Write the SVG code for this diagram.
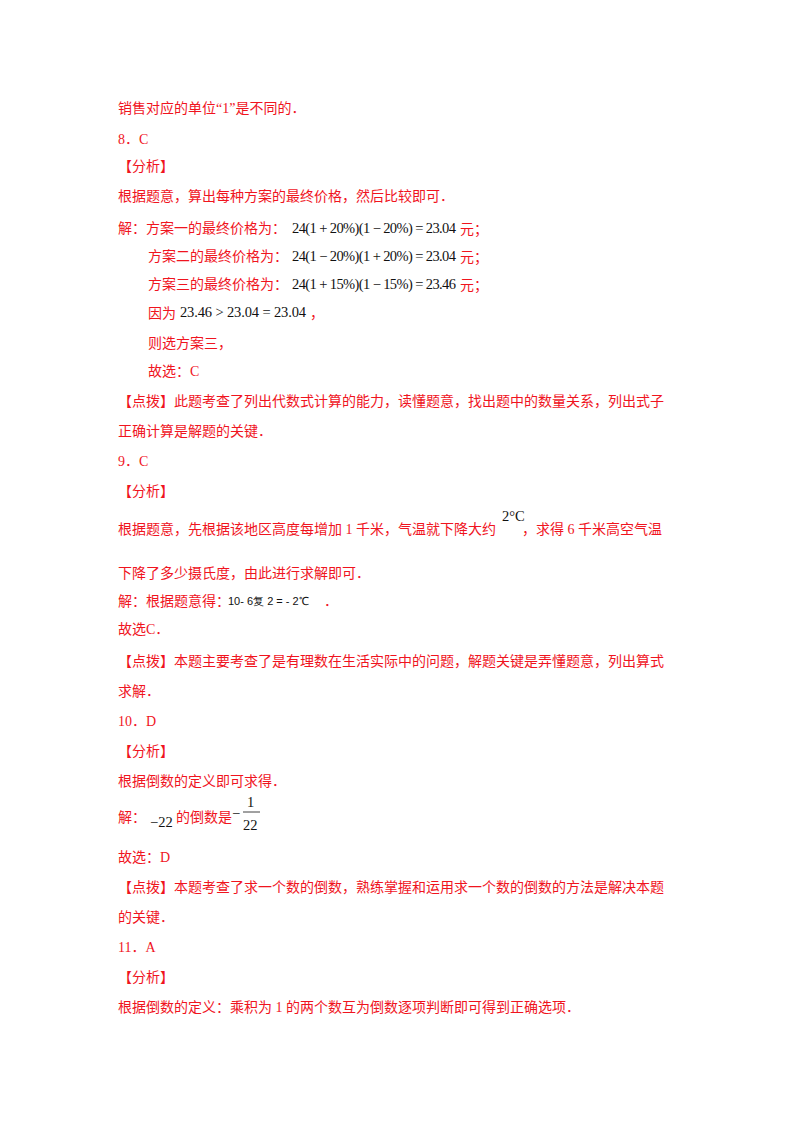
<svg xmlns="http://www.w3.org/2000/svg" width="800" height="1132" viewBox="0 0 800 1132">
<style>
.t{font-family:"Liberation Serif","Noto Sans CJK SC",serif;font-size:14px;fill:#f0141e}
.m{font-family:"Liberation Serif",serif;font-size:14.5px;fill:#111}
.s{font-family:"Liberation Sans",sans-serif;font-size:11px;fill:#111}
</style>
<rect width="800" height="1132" fill="#fff"/>
<g id="text">
<text class="t" x="118" y="113">销售对应的单位“1”是不同的．</text>
<text class="t" x="118" y="144">8．C</text>
<text class="t" x="118" y="171">【分析】</text>
<text class="t" x="118" y="201">根据题意，算出每种方案的最终价格，然后比较即可．</text>
<text class="t" x="118" y="233">解：方案一的最终价格为：</text>
<text class="m" x="292" y="233" textLength="164" lengthAdjust="spacing">24(1 + 20%)(1 − 20%) = 23.04</text>
<text class="t" x="460" y="234">元；</text>
<text class="t" x="148" y="261">方案二的最终价格为：</text>
<text class="m" x="292" y="261" textLength="164" lengthAdjust="spacing">24(1 − 20%)(1 + 20%) = 23.04</text>
<text class="t" x="460" y="262">元；</text>
<text class="t" x="148" y="289">方案三的最终价格为：</text>
<text class="m" x="292" y="289" textLength="164" lengthAdjust="spacing">24(1 + 15%)(1 − 15%) = 23.46</text>
<text class="t" x="460" y="290">元；</text>
<text class="t" x="148" y="318">因为</text>
<text class="m" x="180" y="317" textLength="126" lengthAdjust="spacing">23.46 &gt; 23.04 = 23.04</text>
<text class="t" x="310" y="318">，</text>
<text class="t" x="148" y="348">则选方案三，</text>
<text class="t" x="148" y="376">故选：C</text>
<text class="t" x="118" y="406">【点拨】此题考查了列出代数式计算的能力，读懂题意，找出题中的数量关系，列出式子</text>
<text class="t" x="118" y="436">正确计算是解题的关键．</text>
<text class="t" x="118" y="466">9．C</text>
<text class="t" x="118" y="496">【分析】</text>
<text class="t" x="118" y="534">根据题意，先根据该地区高度每增加 1 千米，气温就下降大约</text>
<text class="m" x="502" y="521">2°C</text>
<text class="t" x="522" y="534">，求得 6 千米高空气温</text>
<text class="t" x="118" y="578">下降了多少摄氏度，由此进行求解即可．</text>
<text class="t" x="118" y="606">解：根据题意得：</text>
<text class="s" x="228" y="605">10- 6复   2 = - 2℃</text>
<text class="t" x="324" y="606">．</text>
<text class="t" x="118" y="634">故选C．</text>
<text class="t" x="118" y="666">【点拨】本题主要考查了是有理数在生活实际中的问题，解题关键是弄懂题意，列出算式</text>
<text class="t" x="118" y="696">求解．</text>
<text class="t" x="118" y="726">10．D</text>
<text class="t" x="118" y="756">【分析】</text>
<text class="t" x="118" y="786">根据倒数的定义即可求得．</text>
<text class="t" x="118" y="822">解：</text>
<text class="m" x="150" y="827">−22</text>
<text class="t" x="176" y="822">的倒数是</text>
<text class="m" x="232" y="818">−</text>
<text class="m" x="247" y="807">1</text>
<line x1="243" y1="812" x2="260" y2="812" stroke="#111" stroke-width="0.8"/>
<text class="m" x="243" y="830">22</text>
<text class="t" x="118" y="862">故选：D</text>
<text class="t" x="118" y="892">【点拨】本题考查了求一个数的倒数，熟练掌握和运用求一个数的倒数的方法是解决本题</text>
<text class="t" x="118" y="922">的关键．</text>
<text class="t" x="118" y="952">11．A</text>
<text class="t" x="118" y="982">【分析】</text>
<text class="t" x="118" y="1012">根据倒数的定义：乘积为 1 的两个数互为倒数逐项判断即可得到正确选项．</text>
</g>
</svg>
